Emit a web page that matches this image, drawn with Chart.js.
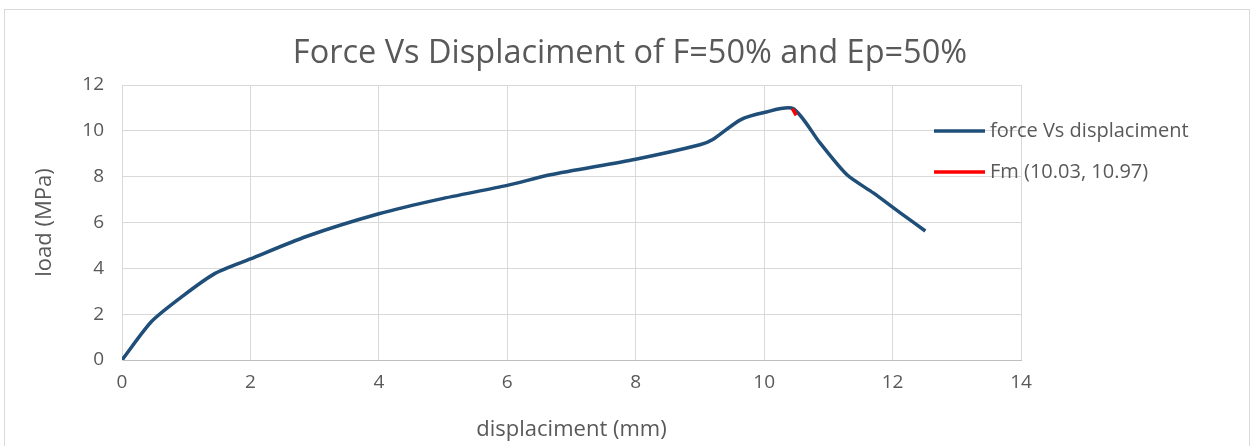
<!DOCTYPE html>
<html>
<head>
<meta charset="utf-8">
<script src="https://cdn.jsdelivr.net/npm/chart.js@4/dist/chart.umd.min.js"></script>
<style>
  html, body { margin: 0; padding: 0; background: #ffffff; }
  #wrap { position: relative; width: 1252px; height: 446px; overflow: hidden; }
  #frame { position: absolute; left: 4px; top: 9px; width: 1246px; height: 460px; border: 1px solid #d9d9d9; box-sizing: border-box; }
  #c { position: absolute; left: 0; top: 0; }
</style>
</head>
<body>
<div id="wrap">
  <div id="frame"></div>
  <canvas id="c" width="1252" height="446"></canvas>
</div>
<script>
// Tensile test curve: displacement (mm) against load (MPa)
const displacement = [0, 0.46, 0.95, 1.45, 2, 2.87, 4, 4.95, 6, 6.67, 8, 9, 9.2, 9.63, 10, 10.45, 10.87, 11.29, 11.7, 12.12, 12.51];
const load         = [0, 1.68, 2.8, 3.78, 4.41, 5.39, 6.38, 7.02, 7.62, 8.08, 8.76, 9.39, 9.62, 10.48, 10.8, 10.97, 9.47, 8.08, 7.29, 6.42, 5.63];

// Maximum-force marker segment
const fmDisplacement = [10.44, 10.5];
const fmLoad         = [10.97, 10.68];

const titleText = 'Force Vs Displaciment of F=50% and Ep=50%';
const xTitle = 'displaciment (mm)';
const yTitle = 'load (MPa)';
const seriesNames = ['force Vs displaciment', 'Fm (10.03, 10.97)'];
const seriesColors = ['#1f4e79', '#ff0000'];

const xTicks = [0, 2, 4, 6, 8, 10, 12, 14];
const yTicks = [0, 2, 4, 6, 8, 10, 12];

const FONT = '"Open Sans", "Noto Sans", sans-serif';
const TEXT = '#595959';

const toPoints = (xs, ys) => xs.map((x, i) => ({ x: x, y: ys[i] }));

const textPlugin = {
  id: 'texts',
  afterDraw(chart) {
    const ctx = chart.ctx;
    const area = chart.chartArea;
    ctx.save();
    ctx.fillStyle = TEXT;
    // title
    ctx.font = '32.5px ' + FONT;
    ctx.textAlign = 'center';
    ctx.textBaseline = 'middle';
    ctx.fillText(titleText, 630, 54);
    // axis titles
    ctx.font = '22px ' + FONT;
    ctx.fillText(xTitle, (area.left + area.right) / 2, 430);
    ctx.save();
    ctx.translate(45, (area.top + area.bottom) / 2);
    ctx.rotate(-Math.PI / 2);
    ctx.fillText(yTitle, 0, 0);
    ctx.restore();
    // legend
    ctx.font = '20px ' + FONT;
    ctx.textAlign = 'left';
    const rows = [131, 172];
    rows.forEach((y, i) => {
      ctx.strokeStyle = seriesColors[i];
      ctx.lineWidth = 3.5;
      ctx.beginPath();
      ctx.moveTo(934, y);
      ctx.lineTo(985, y);
      ctx.stroke();
      ctx.fillStyle = TEXT;
      ctx.fillText(seriesNames[i], 990, y);
    });
    ctx.restore();
  }
};

new Chart(document.getElementById('c'), {
  type: 'scatter',
  data: {
    datasets: [
      {
        label: seriesNames[0],
        data: toPoints(displacement, load),
        showLine: true,
        borderColor: seriesColors[0],
        borderWidth: 3.5,
        pointRadius: 0,
        tension: 0.25,
        order: 2
      },
      {
        label: seriesNames[1],
        data: toPoints(fmDisplacement, fmLoad),
        showLine: true,
        borderColor: seriesColors[1],
        borderWidth: 3.5,
        pointRadius: 0,
        order: 1
      }
    ]
  },
  options: {
    responsive: false,
    animation: false,
    devicePixelRatio: 1,
    layout: { padding: { left: 0, right: 231, top: 85, bottom: 0 } },
    plugins: {
      legend: { display: false },
      title: { display: false },
      tooltip: { enabled: false }
    },
    scales: {
      x: {
        type: 'linear',
        min: 0, max: 14,
        afterBuildTicks: (s) => { s.ticks = xTicks.map(v => ({ value: v })); },
        afterFit: (s) => { s.height = 86; },
        ticks: { color: TEXT, font: { family: FONT, size: 19 }, padding: 11 },
        grid: { color: '#d9d9d9', lineWidth: 1, drawTicks: false },
        border: { color: '#bfbfbf', width: 1 }
      },
      y: {
        type: 'linear',
        min: 0, max: 12,
        afterBuildTicks: (s) => { s.ticks = yTicks.map(v => ({ value: v })); },
        afterFit: (s) => { s.width = 122; },
        ticks: { color: TEXT, font: { family: FONT, size: 19 }, padding: 18 },
        grid: { color: '#d9d9d9', lineWidth: 1, drawTicks: false },
        border: { color: '#d9d9d9', width: 1 }
      }
    }
  },
  plugins: [textPlugin]
});
</script>
</body>
</html>
